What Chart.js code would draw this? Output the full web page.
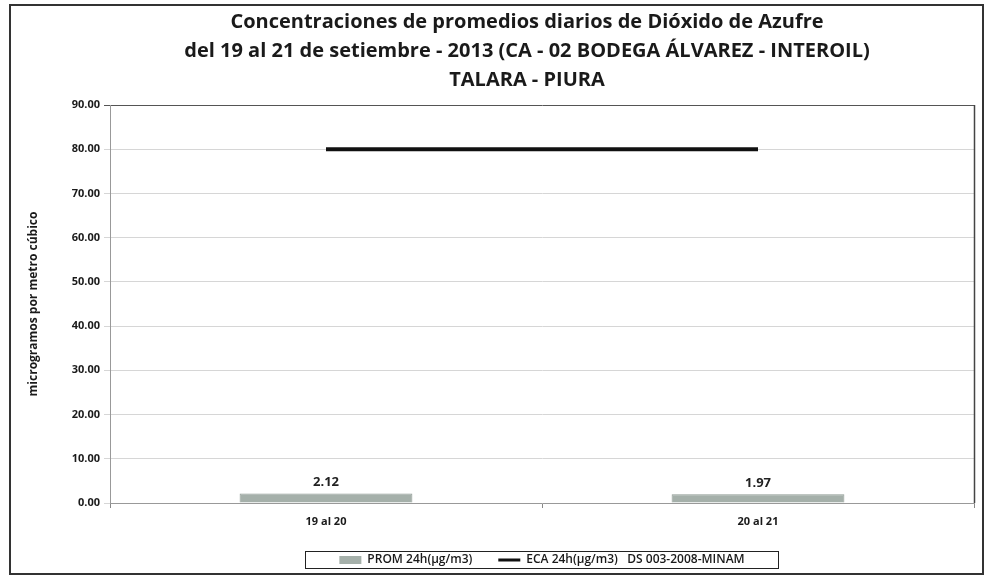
<!DOCTYPE html>
<html>
<head>
<meta charset="utf-8">
<script src="https://cdn.jsdelivr.net/npm/chart.js@4.4.1/dist/chart.umd.min.js"></script>
<style>
  html, body { margin: 0; padding: 0; background: #fff; }
  #caja { width: 984px; height: 576px; position: relative; }
</style>
</head>
<body>
<div id="caja"><canvas id="grafico" width="984" height="576"></canvas></div>
<script>
const categorias = ['19 al 20', '20 al 21']
const promedio24h = [2.12, 1.97]
const eca24h = [80, 80]
const ticksY = [0, 10, 20, 30, 40, 50, 60, 70, 80, 90]

const tituloLineas = [
    'Concentraciones de promedios diarios de Dióxido de Azufre',
    'del 19 al 21 de setiembre - 2013 (CA - 02 BODEGA ÁLVAREZ - INTEROIL)',
    'TALARA - PIURA'
]

const fuente = "'Open Sans', 'Liberation Sans', sans-serif"
const grisBarra = '#a5b0aa'

// el titulo del original no esta centrado sobre el lienzo
const moverTitulo = {
    id: 'moverTitulo',
    afterLayout(chart) {
        chart.titleBlock.left = 80
        chart.titleBlock.right = 974
    }
}

// marco exterior, borde del area y borde de la leyenda
const marcos = {
    id: 'marcos',
    afterDraw(chart) {
        const ctx = chart.ctx
        const area = chart.chartArea
        ctx.save()
        ctx.strokeStyle = '#444'
        ctx.lineWidth = 1.5
        ctx.beginPath()
        ctx.moveTo(area.right + 0.5, area.top)
        ctx.lineTo(area.right + 0.5, area.bottom)
        ctx.stroke()
        ctx.strokeStyle = '#333'
        ctx.lineWidth = 2
        ctx.strokeRect(10, 5, 973, 569)
        const cajas = chart.legend.legendHitBoxes
        if (cajas.length) {
            const x0 = cajas[0].left - 34
            const x1 = cajas[cajas.length - 1].left + cajas[cajas.length - 1].width + 34
            const yc = cajas[0].top + cajas[0].height / 2
            ctx.lineWidth = 1
            ctx.strokeStyle = '#222'
            ctx.strokeRect(Math.round(x0) + 0.5, Math.round(yc - 9) + 0.5, Math.round(x1 - x0), 17)
        }
        ctx.restore()
    }
}

// etiquetas de valor sobre las barras
const etiquetas = {
    id: 'etiquetas',
    afterDatasetsDraw(chart) {
        const ctx = chart.ctx
        const meta = chart.getDatasetMeta(0)
        ctx.save()
        ctx.font = 'bold 13px ' + fuente
        ctx.fillStyle = '#222'
        ctx.textAlign = 'center'
        ctx.textBaseline = 'middle'
        meta.data.forEach((barra, i) => {
            ctx.fillText(promedio24h[i].toFixed(2), barra.x, barra.y - 11)
        })
        ctx.restore()
    }
}

const grafico = new Chart(document.getElementById('grafico'), {
    data: {
        labels: categorias,
        datasets: [{
            type: 'bar',
            label: 'PROM 24h(µg/m3)',
            data: promedio24h,
            backgroundColor: grisBarra,
            borderColor: '#8e9a93',
            borderWidth: 1,
            categoryPercentage: 1,
            barPercentage: 0.4,
            order: 2
        }, {
            type: 'line',
            label: 'ECA 24h(µg/m3)   DS 003-2008-MINAM',
            data: eca24h,
            borderColor: '#111',
            backgroundColor: '#111',
            borderWidth: 4,
            pointRadius: 0,
            order: 1
        }]
    },
    options: {
        responsive: false,
        animation: false,
        layout: { padding: { left: 14, right: 10, top: 0, bottom: 0 } },
        plugins: {
            title: {
                display: true,
                text: tituloLineas,
                color: '#1a1a1a',
                font: { family: fuente, size: 20, weight: 'bold', lineHeight: 1.45 },
                padding: { top: 8, bottom: 10 }
            },
            legend: {
                position: 'bottom',
                fullSize: false,
                labels: {
                    color: '#1a1a1a',
                    font: { family: fuente, size: 12, weight: '600' },
                    usePointStyle: true,
                    pointStyleWidth: 22,
                    boxHeight: 8,
                    padding: 26,
                    generateLabels(chart) {
                        return chart.data.datasets.map((ds, i) => ({
                            text: ds.label,
                            fillStyle: i === 0 ? grisBarra : '#111',
                            strokeStyle: i === 0 ? grisBarra : '#111',
                            lineWidth: i === 0 ? 0 : 3,
                            pointStyle: i === 0 ? 'rect' : 'line',
                            datasetIndex: i,
                            fontColor: '#1a1a1a'
                        }))
                    }
                }
            },
            tooltip: { enabled: false }
        },
        scales: {
            x: {
                offset: true,
                afterFit(eje) { eje.height = 25 },
                grid: {
                    display: true,
                    offset: true,
                    drawOnChartArea: false,
                    tickLength: 5,
                    color: '#888'
                },
                border: { color: '#999' },
                ticks: {
                    color: '#1a1a1a',
                    font: { family: fuente, size: 11, weight: 'bold' },
                    padding: 7
                }
            },
            y: {
                min: 0,
                max: 90,
                afterBuildTicks(eje) {
                    eje.ticks = ticksY.map(v => ({ value: v }))
                },
                afterFit(eje) { eje.width = 96 },
                grid: {
                    color: ctx => ctx.tick && ctx.tick.value === 90 ? '#555' : '#d6d6d6',
                    tickLength: 6
                },
                border: { color: '#999' },
                ticks: {
                    color: '#1a1a1a',
                    font: { family: fuente, size: 11, weight: 'bold' },
                    padding: 4,
                    callback: v => Number(v).toFixed(2)
                },
                title: {
                    display: true,
                    text: 'microgramos por metro cúbico',
                    color: '#1a1a1a',
                    font: { family: fuente, size: 12, weight: 'bold' },
                    padding: { top: 12, bottom: 0 }
                }
            }
        }
    },
    plugins: [moverTitulo, marcos, etiquetas]
})
</script>
</body>
</html>
